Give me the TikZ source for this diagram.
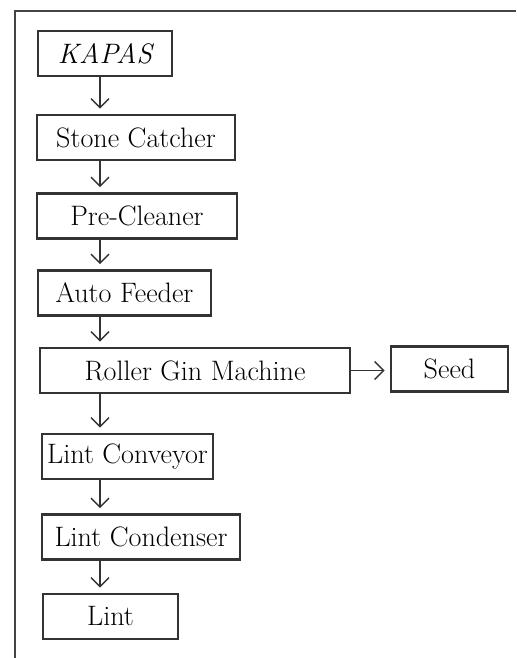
\documentclass[tikz,border=0pt]{standalone}
\usepackage{tikz}
\usetikzlibrary{arrows.meta,positioning}
\definecolor{pgray}{HTML}{333333}
\definecolor{pframe}{HTML}{444444}

\begin{document}
\begin{tikzpicture}[
  font=\fontsize{16}{19}\selectfont,
  stage/.style={draw=pgray,line width=1.5pt,minimum height=0.9cm,inner sep=0pt,align=center},
  ln/.style={-{Straight Barb[length=1.8mm,width=3.6mm]},draw=pgray,line width=0.8pt,
             shorten >=0.1cm},
  frm/.style={draw=pframe,line width=1.5pt}]
\useasboundingbox (0,0) rectangle (10.32,13.16);

% ---------------- frame ----------------
\draw[frm] (0.30,0) -- (0.30,12.94) -- (10.32,12.94);

% ---------------- stages ----------------
\node[stage,minimum width=2.68cm] (kapas) at (2.10,12.09) {\itshape KAPAS};
\node[stage,minimum width=3.96cm] (stone) at (2.72,10.41) {Stone Catcher};
\node[stage,minimum width=4.00cm] (pre)   at (2.74,8.84)  {Pre-Cleaner};
\node[stage,minimum width=3.46cm] (auto)  at (2.49,7.30)  {Auto Feeder};
\node[stage,minimum width=6.20cm] (gin)   at (3.90,5.75)  {Roller Gin Machine};
\node[stage,minimum width=2.34cm] (seed)  at (8.99,5.78)  {Seed};
\node[stage,minimum width=3.42cm] (conv)  at (2.55,4.03)  {Lint Conveyor};
\node[stage,minimum width=3.96cm] (cond)  at (2.82,2.42)  {Lint Condenser};
\node[stage,minimum width=2.70cm] (lint)  at (2.21,0.83)  {Lint};

% ---------------- flow ----------------
\coordinate (col) at (2.0,0);
\draw[ln] (kapas.south -| col) -- (stone.north -| col);
\draw[ln] (stone.south -| col) -- (pre.north -| col);
\draw[ln] (pre.south -| col)   -- (auto.north -| col);
\draw[ln] (auto.south -| col)  -- (gin.north -| col);
\draw[ln] (gin.south -| col)   -- (conv.north -| col);
\draw[ln] (conv.south -| col)  -- (cond.north -| col);
\draw[ln] (cond.south -| col)  -- (lint.north -| col);
\draw[ln] (gin.east) -- (seed.west |- gin.east);
\end{tikzpicture}
\end{document}
